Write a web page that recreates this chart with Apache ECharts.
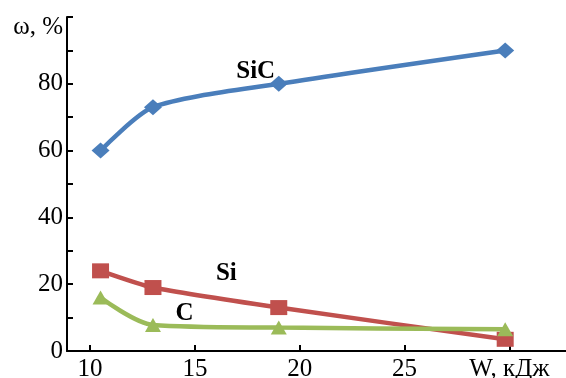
<!DOCTYPE html>
<html>
<head>
<meta charset="utf-8">
<script src="https://cdn.jsdelivr.net/npm/echarts@6/dist/echarts.min.js"></script>
<style>html,body{margin:0;padding:0;background:#fff}#c{width:566px;height:378px}</style>
</head>
<body>
<div id="c"></div>
<script>
const energy = [10.5, 13, 19, 29.8];
const sic = [60, 73, 80, 90];
const si = [24, 19, 13, 3.5];
const carbon = [16, 7.8, 7, 6.5];
const xTicks = [10, 15, 20, 25, 30];
const xAxisTitle = 'W, кДж';
const yAxisTitle = 'ω, %';
const labelSiC = [17.9, 83.7];
const labelSi = [16.5, 23.3];
const labelC = [14.5, 11.1];

const font = 'Liberation Serif';
function pairs(ys){ return energy.map((x,i)=>[x, ys[i]]); }
function tag(text, coord){
  return { symbol:'circle', symbolSize:1, silent:true,
    itemStyle:{ color:'rgba(0,0,0,0)' },
    data:[{ coord: coord, value: text }],
    label:{ show:true, formatter:text, position:'inside', color:'#000', fontFamily:font, fontWeight:'bold', fontSize:25 } };
}
const chart = echarts.init(document.getElementById('c'));
chart.setOption({
  animation:false,
  grid:{ left:67, right:0, top:17, bottom:27, outerBoundsMode:'none', containLabel:false },
  xAxis:{ type:'value', min:8.9, max:32.7,
    axisLine:{ lineStyle:{ color:'#000', width:2 } },
    axisTick:{ inside:true, length:6, customValues:xTicks, lineStyle:{ color:'#000', width:2 } },
    axisLabel:{ customValues:xTicks, color:'#000', fontFamily:font, fontSize:25, margin:6,
      formatter:v=> v===30 ? xAxisTitle : String(v) },
    splitLine:{ show:false } },
  yAxis:{ type:'value', min:0, max:100, interval:10,
    axisLine:{ show:true, lineStyle:{ color:'#000', width:2 } },
    axisTick:{ show:true, inside:true, length:6, lineStyle:{ color:'#000', width:2 } },
    axisLabel:{ color:'#000', fontFamily:font, fontSize:25, margin:4,
      formatter:v=> v===100 ? '{t|'+yAxisTitle+'}' : (v%20===0 ? String(v) : ''),
      rich:{ t:{ fontFamily:font, fontSize:25, color:'#000', padding:[20,0,0,0] } } },
    splitLine:{ show:false } },
  series:[
    { type:'line', data:pairs(sic), smooth:0.25, symbol:'diamond', symbolSize:[18,16],
      lineStyle:{ color:'#4a7ebb', width:4.5 }, itemStyle:{ color:'#4a7ebb' }, markPoint:tag('SiC', labelSiC) },
    { type:'line', data:pairs(si), smooth:0.2, symbol:'rect', symbolSize:[17,15],
      lineStyle:{ color:'#c0504d', width:4.5 }, itemStyle:{ color:'#c0504d' }, markPoint:tag('Si', labelSi) },
    { type:'line', data:pairs(carbon), smooth:0.3, symbol:'triangle', symbolSize:[16,14],
      lineStyle:{ color:'#9bbb59', width:4.5 }, itemStyle:{ color:'#9bbb59' }, markPoint:tag('C', labelC) }
  ]
});
</script>
</body>
</html>
